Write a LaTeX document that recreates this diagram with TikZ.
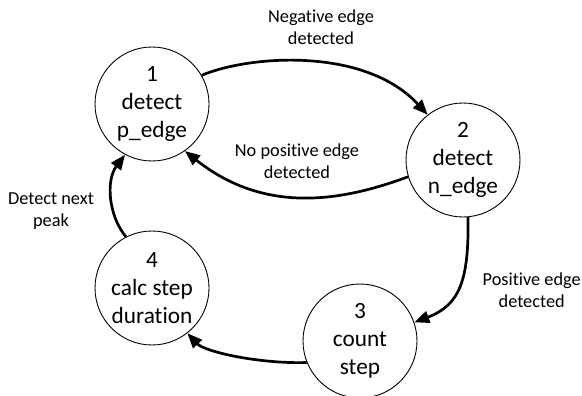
\documentclass[tikz,border=0pt]{standalone}
\usepackage{fontspec}
\setmainfont{Carlito}[Ligatures={NoCommon,NoRare,NoContextual}]
\usetikzlibrary{arrows.meta}
\begin{document}
\begin{tikzpicture}[x=1pt,y=-1pt,
  state/.style={circle,draw,line width=0.9pt,minimum size=114pt,inner sep=0pt,align=center,
    font=\fontsize{23.3}{28}\selectfont},
  lbl/.style={align=center,inner sep=0pt,font=\fontsize{18.3}{22}\selectfont},
  trans/.style={line width=2.7pt,-{Triangle[length=15pt,width=12pt]}}]
\useasboundingbox (0,0) rectangle (582,396);
\node[state] (s1) at (152,104) {1\\detect\\p\_edge};
\node[state] (s2) at (463,160) {2\\detect\\n\_edge};
\node[state] (s3) at (360,341) {3\\count\\step};
\node[state] (s4) at (152,288) {4\\calc step\\dura{}tion};
\draw[trans] (s1.30) .. controls (250,55) and (365,47) .. (s2.128);
\draw[trans] (s2.197) .. controls (342.5,201) and (265.5,215) .. (s1.305);
\draw[trans] (s2.275) .. controls (469,280) and (460,305) .. (s3.19);
\draw[trans] (s3.202) .. controls (260,364) and (205,352) .. (s4.308);
\draw[trans] (s4.117) .. controls (108,215) and (106,180) .. (s1.242);
\node[lbl] (l12) at (321,27) {Negative edge\\detected};
\node[lbl] (l21) at (297,161) {No positive edge\\detected};
\node[lbl] (l23) at (531.7,290) {Positive edge\\detected};
\node[lbl] (l41) at (51,211) {Detect next\\peak};
\end{tikzpicture}
\end{document}
